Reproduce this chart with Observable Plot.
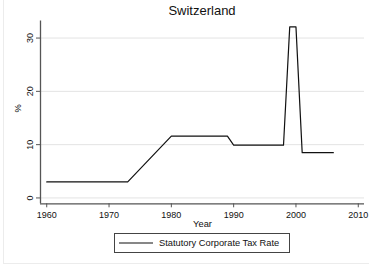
<!DOCTYPE html>
<html><head><meta charset="utf-8">
<script src="https://cdn.jsdelivr.net/npm/d3@7"></script>
<script src="https://cdn.jsdelivr.net/npm/@observablehq/plot@0.6"></script>
<style>
body{margin:0;background:#fff;font-family:"Liberation Sans",Arial,sans-serif;}
#wrap{position:relative;width:369px;height:271px;overflow:hidden;background:#fff;}
#frame{position:absolute;left:3px;top:-2px;width:400px;height:265px;border-left:1px solid #ececec;border-bottom:1px solid #ececec;}
#title{position:absolute;left:40px;width:324px;top:2px;height:18px;text-align:center;font-size:13px;line-height:18px;color:#111;}
#chart{position:absolute;left:0;top:18px;}
#legend{position:absolute;left:114px;top:233px;width:174px;height:18px;border:1px solid #444;display:flex;align-items:center;font-size:9.3px;color:#111;box-sizing:content-box;}
#legend svg{margin-left:4px;margin-right:6px;}
</style></head><body>
<div id="wrap"><div id="frame"></div><div id="title"></div><div id="chart"></div><div id="legend"></div></div>
<script>
const country = "Switzerland";
const years = [1960, 1973, 1980, 1989, 1990, 1998, 1999, 2000, 2001, 2006];
const rates = [3.0, 3.0, 11.6, 11.6, 9.9, 9.9, 32.1, 32.1, 8.5, 8.5];
const xTicks = [1960, 1970, 1980, 1990, 2000, 2010];
const yTicks = [0, 10, 20, 30];
const xLabel = "Year";
const yLabel = "%";
const seriesName = "Statutory Corporate Tax Rate";
const xDomain = [1959, 2011];
const yDomain = [-1.1, 33.2];

const data = years.map((year, i) => ({year, rate: rates[i]}));

document.getElementById("title").textContent = country;

const chart = Plot.plot({
  width: 369, height: 214,
  marginTop: 2.5, marginBottom: 28.7, marginLeft: 40, marginRight: 5,
  style: {fontFamily: '"Liberation Sans", Arial, sans-serif', fontSize: "9px", color: "#111", background: "transparent"},
  x: {domain: xDomain},
  y: {domain: yDomain},
  marks: [
    Plot.gridY(yTicks, {stroke: "#e3e3e3", strokeOpacity: 1, strokeWidth: 1}),
    Plot.ruleX([xDomain[0]], {stroke: "#555", strokeWidth: 1.3}),
    Plot.ruleY([yDomain[0]], {stroke: "#555", strokeWidth: 1.3}),
    Plot.axisX(xTicks, {tickSize: 4, tickPadding: 4, stroke: "#555", fill: "#111", label: null, tickFormat: d => String(d)}),
    Plot.axisY(yTicks, {tickSize: 4, tickRotate: -90, tickPadding: 3.5, stroke: "#555", fill: "#111", label: null, tickFormat: d => String(d)}),
    Plot.line(data, {x: "year", y: "rate", stroke: "#111", strokeWidth: 1.2}),
    Plot.text([xLabel], {frameAnchor: "bottom", dy: 16.5, lineAnchor: "top", text: d => d, fontSize: 9.3, fill: "#111"}),
    Plot.text([yLabel], {frameAnchor: "left", dx: -22.2, rotate: -90, text: d => d, fontSize: 9.3, fill: "#111"})
  ]
});
document.getElementById("chart").appendChild(chart);

const legend = document.getElementById("legend");
const sw = d3.create("svg").attr("width", 34).attr("height", 6);
sw.append("line").attr("x1", 0).attr("x2", 34).attr("y1", 3).attr("y2", 3).attr("stroke", "#111").attr("stroke-width", 1.2);
legend.appendChild(sw.node());
const lt = document.createElement("span");
lt.textContent = seriesName;
legend.appendChild(lt);
</script>
</body></html>
